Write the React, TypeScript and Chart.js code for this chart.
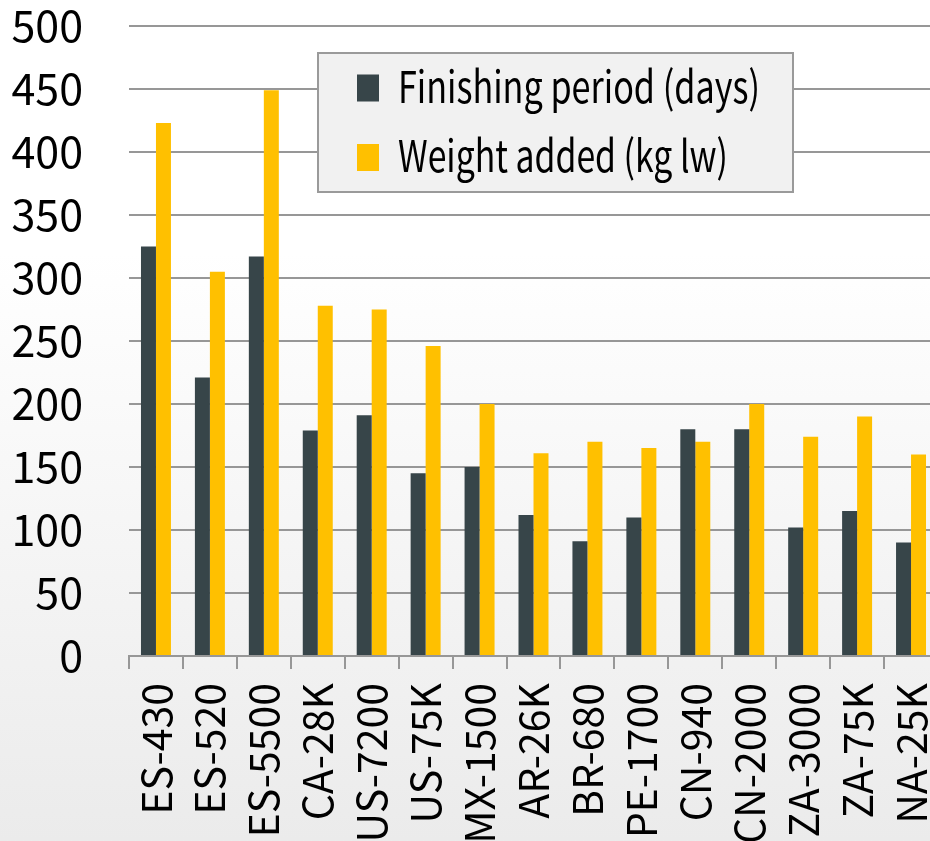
import React, { useEffect, useRef } from "react";
import { Chart, registerables } from "chart.js";

Chart.register(...registerables);

const categories = [
  "ES-430", "ES-520", "ES-5500", "CA-28K", "US-7200", "US-75K", "MX-1500",
  "AR-26K", "BR-680", "PE-1700", "CN-940", "CN-2000", "ZA-3000", "ZA-75K", "NA-25K",
];
const finishingDays = [325, 221, 317, 179, 191, 145, 150, 112, 91, 110, 180, 180, 102, 115, 90];
const weightAdded = [423, 305, 449, 278, 275, 246, 200, 161, 170, 165, 170, 200, 174, 190, 160];
const seriesLabels = ["Finishing period (days)", "Weight added (kg lw)"];
const seriesColors = ["#374549", "#FFC000"];
const yMin = 0;
const yMax = 500;
const yStep = 50;

const FONT = "'Noto Sans CJK SC', 'Liberation Sans', sans-serif";
const GRID = "#979797";

const backgroundPlugin = {
  id: "bgGradient",
  beforeDraw(chart: any) {
    const { ctx, width, height } = chart;
    ctx.save();
    const g = ctx.createLinearGradient(0, 0, 0, height);
    g.addColorStop(0, "#ffffff");
    g.addColorStop(0.3, "#ffffff");
    g.addColorStop(1, "#ebebeb");
    ctx.fillStyle = g;
    ctx.fillRect(0, 0, width, height);
    ctx.restore();
  },
};

const boxLegendPlugin = {
  id: "boxLegend",
  afterDraw(chart: any) {
    const ctx = chart.ctx;
    const bx = 318, by = 53, bw = 475, bh = 139;
    ctx.save();
    ctx.fillStyle = "#f1f1f1";
    ctx.fillRect(bx, by, bw, bh);
    ctx.strokeStyle = "#9a9a9a";
    ctx.lineWidth = 2;
    ctx.strokeRect(bx, by, bw, bh);
    const maxW = [362, 330];
    chart.data.datasets.forEach((ds: any, i: number) => {
      const cy = 88 + i * 69.5;
      ctx.fillStyle = ds.backgroundColor;
      ctx.fillRect(357, cy - 13.5, 22, 27);
      ctx.fillStyle = "#000000";
      ctx.font = `44px ${FONT}`;
      ctx.textBaseline = "alphabetic";
      ctx.textAlign = "left";
      const w = ctx.measureText(ds.label).width;
      ctx.fillText(ds.label, 398, cy + 14.5, Math.min(w, maxW[i] ?? w));
    });
    ctx.restore();
  },
};

export default function App() {
  const ref = useRef<HTMLCanvasElement | null>(null);

  useEffect(() => {
    if (!ref.current) return;
    const chart = new Chart(ref.current, {
      type: "bar",
      data: {
        labels: categories,
        datasets: [
          { label: seriesLabels[0], data: finishingDays, backgroundColor: seriesColors[0], borderWidth: 0 },
          { label: seriesLabels[1], data: weightAdded, backgroundColor: seriesColors[1], borderWidth: 0 },
        ],
      },
      options: {
        animation: false,
        responsive: false,
        devicePixelRatio: 1,
        layout: { padding: { top: 26, right: 7, left: 0, bottom: 0 } },
        datasets: { bar: { categoryPercentage: 0.556, barPercentage: 1 } },
        plugins: {
          legend: { display: false },
          tooltip: { enabled: false },
        },
        scales: {
          x: {
            offset: true,
            grid: {
              offset: true,
              drawOnChartArea: false,
              drawTicks: true,
              tickLength: 13,
              color: GRID,
              lineWidth: 2,
            },
            border: { display: true, color: GRID, width: 2 },
            ticks: {
              autoSkip: false,
              minRotation: 90,
              maxRotation: 90,
              padding: 14,
              color: "#000000",
              font: { family: FONT, size: 41 },
            },
            afterFit: (s: any) => {
              s.height = 185;
              s.paddingLeft = 0;
              s.paddingRight = 0;
            },
          },
          y: {
            min: yMin,
            max: yMax,
            ticks: {
              stepSize: yStep,
              padding: 46,
              color: "#000000",
              font: { family: FONT, size: 43 },
            },
            grid: { color: GRID, lineWidth: 2, drawTicks: false },
            border: { display: false },
            afterFit: (s: any) => {
              s.width = 129;
              s.paddingTop = 0;
              s.paddingBottom = 0;
            },
          },
        },
      },
      plugins: [backgroundPlugin, boxLegendPlugin],
    });
    return () => chart.destroy();
  }, []);

  return (
    <div style={{ position: "fixed", left: 0, top: 0, width: 930, height: 841, overflow: "hidden" }}>
      <canvas ref={ref} width={945} height={841} style={{ width: 945, height: 841, display: "block" }} />
    </div>
  );
}
